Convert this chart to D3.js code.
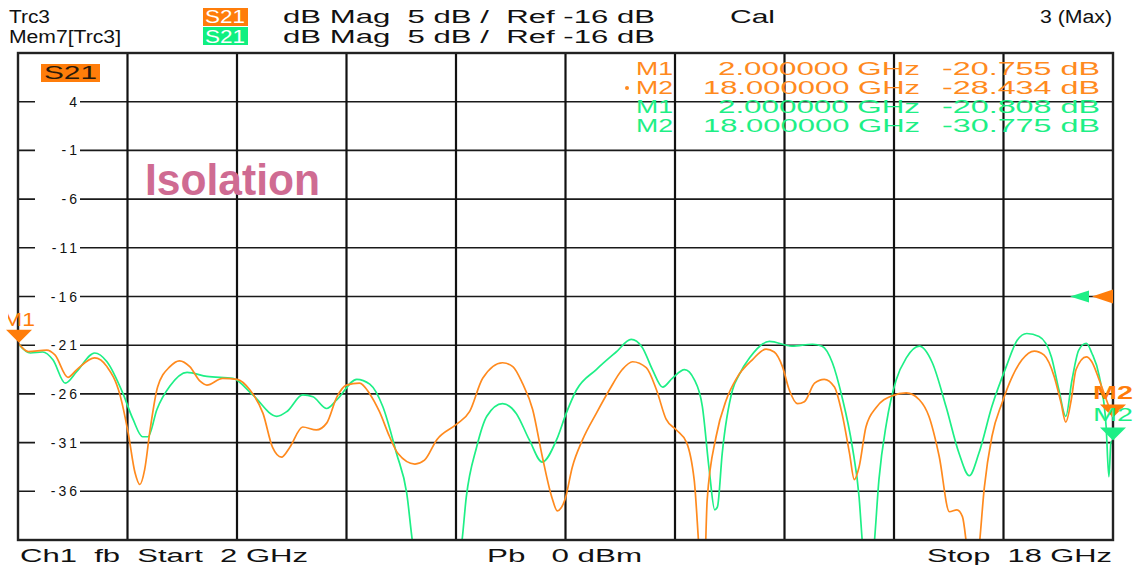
<!DOCTYPE html>
<html><head><meta charset="utf-8">
<script src="https://cdn.jsdelivr.net/npm/d3@7"></script>
<style>
html,body{margin:0;padding:0;background:#fff;}
svg{display:block;font-family:"Liberation Sans",Arial,sans-serif;}
text{white-space:pre;}
</style></head>
<body>
<svg id="chart" width="1133" height="565"></svg>
<script>
// ---- data ----
const freqRange = [2, 18];           // GHz
const dbRange = [-41, 9];             // dB (5 dB/div, Ref -16 dB)
const yTicks = [4, -1, -6, -11, -16, -21, -26, -31, -36];
const xGrid = [3.6, 5.2, 6.8, 8.4, 10.0, 11.6, 13.2, 14.8, 16.4];
const refLevel = -16;

const trc3 = [ // orange, Trc3 S21 (GHz, dB)
 [2.00,-20.76],[2.15,-21.65],[2.42,-21.5],[2.54,-22.0],[2.73,-24.3],[2.86,-23.5],[3.12,-22.3],[3.30,-23.2],
 [3.49,-26.1],[3.61,-30.0],[3.71,-34.1],[3.78,-35.3],[3.85,-33.8],[3.93,-29.7],[4.04,-25.3],[4.22,-23.2],
 [4.36,-22.6],[4.51,-23.2],[4.66,-24.7],[4.76,-25.1],[4.99,-24.4],[5.20,-24.5],[5.39,-25.6],[5.58,-28.0],
 [5.72,-31.5],[5.85,-32.5],[5.97,-31.5],[6.16,-29.4],[6.36,-29.7],[6.51,-29.0],[6.66,-26.3],[6.80,-25.1],
 [6.99,-24.9],[7.14,-26.0],[7.28,-27.8],[7.43,-30.4],[7.55,-32.1],[7.80,-33.2],[7.94,-32.8],[8.12,-30.7],
 [8.41,-29.1],[8.60,-27.8],[8.79,-24.4],[9.08,-22.8],[9.23,-23.2],[9.37,-24.9],[9.52,-27.6],[9.66,-32.4],
 [9.80,-36.6],[9.88,-38.0],[9.99,-36.9],[10.10,-33.5],[10.25,-30.7],[10.45,-28.0],[10.64,-25.6],[10.83,-23.5],
 [10.98,-22.7],[11.18,-23.3],[11.33,-25.6],[11.47,-28.6],[11.62,-29.7],[11.77,-31.0],[11.88,-34.8],[11.99,-44],
 [12.03,-44],[12.07,-36.9],[12.20,-30.4],[12.35,-26.6],[12.50,-24.4],[12.73,-22.5],[12.93,-21.4],[13.05,-21.7],
 [13.17,-23.2],[13.27,-25.6],[13.39,-27.0],[13.49,-26.8],[13.64,-24.9],[13.78,-24.5],[13.93,-25.3],[14.04,-28.0],
 [14.15,-32.1],[14.22,-34.8],[14.29,-33.5],[14.39,-29.4],[14.54,-27.4],[14.77,-26.2],[14.98,-25.9],[15.17,-26.6],
 [15.31,-28.3],[15.46,-32.4],[15.61,-38.1],[15.72,-37.9],[15.80,-38.6],[15.87,-42],[15.96,-46],[16.04,-42],
 [16.12,-35.6],[16.23,-30.4],[16.38,-26.9],[16.53,-24.2],[16.67,-22.5],[16.85,-21.6],[16.99,-22.0],[17.14,-24.2],
 [17.24,-26.9],[17.31,-28.9],[17.39,-26.6],[17.46,-23.5],[17.61,-22.2],[17.69,-22.7],[17.80,-24.6],[17.94,-27.3],
 [18.00,-28.434]
];
const mem7 = [ // green, Mem7[Trc3] S21 (GHz, dB)
 [2.00,-20.81],[2.18,-21.8],[2.36,-21.7],[2.51,-22.5],[2.69,-24.9],[2.86,-23.7],[3.12,-21.8],[3.30,-22.7],
 [3.53,-25.9],[3.68,-28.6],[3.82,-30.4],[3.90,-30.4],[4.03,-27.6],[4.22,-25.2],[4.47,-23.8],[4.76,-24.2],
 [5.14,-24.4],[5.43,-26.1],[5.78,-28.3],[5.93,-27.8],[6.16,-26.1],[6.31,-26.3],[6.51,-27.5],[6.66,-26.6],
 [6.95,-24.5],[7.14,-25.0],[7.33,-27.3],[7.53,-32.1],[7.68,-36.2],[7.77,-41.5],[8.12,-50],[8.48,-41.5],
 [8.55,-36.6],[8.70,-31.5],[8.85,-28.3],[9.08,-27.0],[9.28,-28.0],[9.47,-30.7],[9.66,-33.0],[9.87,-30.7],
 [10.01,-28.0],[10.16,-25.6],[10.45,-23.5],[10.74,-21.7],[10.96,-20.4],[11.12,-21.2],[11.27,-23.5],[11.42,-25.3],
 [11.56,-24.4],[11.74,-23.5],[11.88,-24.5],[12.00,-27.3],[12.10,-33.8],[12.18,-37.9],[12.22,-37.6],[12.29,-32.1],
 [12.44,-25.6],[12.54,-24.0],[12.69,-22.3],[12.98,-20.6],[13.31,-21.1],[13.61,-20.9],[13.75,-21.1],[13.90,-22.8],
 [14.04,-26.3],[14.19,-31.4],[14.29,-36.6],[14.34,-41.5],[14.42,-47],[14.51,-41.5],[14.58,-34.8],[14.69,-29.0],
 [14.83,-24.6],[14.98,-22.3],[15.17,-21.1],[15.36,-22.8],[15.56,-27.3],[15.75,-32.1],[15.90,-34.4],[16.04,-32.1],
 [16.23,-27.3],[16.44,-23.2],[16.60,-20.5],[16.74,-19.8],[16.92,-20.1],[17.10,-22.2],[17.21,-25.6],[17.31,-28.3],
 [17.40,-24.6],[17.50,-21.5],[17.61,-20.8],[17.69,-21.8],[17.80,-24.2],[17.90,-29.4],[17.94,-34.5],[17.97,-31.0],
 [18.00,-30.775]
];
const markerRows = [
 {name:"M1", freq:"2.000000 GHz", val:"-20.755 dB", trace:"trc3"},
 {name:"M2", freq:"18.000000 GHz", val:"-28.434 dB", trace:"trc3", active:true},
 {name:"M1", freq:"2.000000 GHz", val:"-20.808 dB", trace:"mem7"},
 {name:"M2", freq:"18.000000 GHz", val:"-30.775 dB", trace:"mem7"}
];
const markers = [
 {name:"M1", f:2, db:-20.755, trace:"trc3"},
 {name:"M2", f:18, db:-28.434, trace:"trc3"},
 {name:"M2", f:18, db:-30.775, trace:"mem7"}
];

// ---- styling ----
const ORANGE = "#ff8a1e", ORANGE_BOX = "#ff7d0a";
const GREEN = "#1eef86", GREEN_BOX = "#10f080";
const col = {trc3: ORANGE, mem7: GREEN};

const svg = d3.select("#chart");
const L = 18, R = 1113, T = 53, B = 540;
const x = d3.scaleLinear().domain(freqRange).range([L, R]);
const y = d3.scaleLinear().domain(dbRange).range([B, T]);

function txt(g, s, xx, yy, len, opt={}) {
  const t = g.append("text").attr("x", xx).attr("y", yy).text(s)
   .attr("font-size", opt.size || 18).attr("fill", opt.fill || "#111");
  if (len) t.attr("textLength", len).attr("lengthAdjust", "spacingAndGlyphs");
  if (opt.weight) t.attr("font-weight", opt.weight);
  if (opt.anchor) t.attr("text-anchor", opt.anchor);
  return t;
}
const defs = svg.append("defs");
defs.append("clipPath").attr("id", "clip")
  .append("rect").attr("x", L).attr("y", T).attr("width", R - L).attr("height", B - T);
defs.append("clipPath").attr("id", "clipm1")
  .append("rect").attr("x", 8).attr("y", 280).attr("width", 60).attr("height", 80);

// header
const hdr = svg.append("g");
txt(hdr, "Trc3", 9, 23, 41);
txt(hdr, "Mem7[Trc3]", 9, 43, 112);
hdr.append("rect").attr("x", 203).attr("y", 8).attr("width", 45).attr("height", 18).attr("fill", ORANGE_BOX);
hdr.append("rect").attr("x", 203).attr("y", 27).attr("width", 45).attr("height", 18).attr("fill", GREEN_BOX);
txt(hdr, "S21", 205, 23, 40, {fill:"#fff"});
txt(hdr, "S21", 205, 43, 40, {fill:"#fff"});
txt(hdr, "dB Mag  5 dB /  Ref -16 dB", 283, 23, 372);
txt(hdr, "dB Mag  5 dB /  Ref -16 dB", 283, 43, 372);
txt(hdr, "Cal", 730, 23, 45);
txt(hdr, "3 (Max)", 1040, 23, 72);

// grid + y labels
const plot = svg.append("g");
plot.selectAll("line.h").data(yTicks).join("line").attr("class", "h")
  .attr("x1", L).attr("x2", R).attr("y1", d => y(d)).attr("y2", d => y(d))
  .attr("stroke", "#1a1a1a").attr("stroke-width", 1.6);
plot.selectAll("line.v").data(xGrid).join("line").attr("class", "v")
  .attr("x1", d => x(d)).attr("x2", d => x(d)).attr("y1", T).attr("y2", B)
  .attr("stroke", "#111").attr("stroke-width", 2.2);
plot.selectAll("rect.lb").data(yTicks).join("rect").attr("class", "lb")
  .attr("x", 35).attr("y", d => y(d) - 8).attr("width", 45).attr("height", 16).attr("fill", "#fff");
plot.selectAll("text.yl").data(yTicks).join("text").attr("class", "yl")
  .attr("x", 80).attr("y", d => y(d) + 5).attr("text-anchor", "end")
  .attr("font-size", 14).attr("letter-spacing", 3).attr("fill", "#111")
  .text(d => d);

// marker table
const tbl = svg.append("g");
markerRows.forEach((r, i) => {
  const by = 75 + i * 19, c = col[r.trace];
  txt(tbl, r.name, 636, by, 37, {fill: c});
  txt(tbl, r.freq, 920, by, r.freq.length === 12 ? 202 : 217, {fill: c, anchor: "end"});
  txt(tbl, r.val, 942, by, 158, {fill: c});
  if (r.active) tbl.append("circle").attr("cx", 627).attr("cy", by - 6).attr("r", 2).attr("fill", c);
});

// S21 label in plot
svg.append("rect").attr("x", 41).attr("y", 64).attr("width", 59).attr("height", 18).attr("fill", ORANGE_BOX);
txt(svg, "S21", 44, 79, 53, {fill: "#2a1a0a"});

// Isolation annotation
txt(svg, "Isolation", 145, 195, 175, {size: 44, weight: "bold", fill: "#cf6b92"});

// traces
const line = d3.line().x(d => x(d[0])).y(d => y(d[1])).curve(d3.curveMonotoneX);
const tr = svg.append("g").attr("clip-path", "url(#clip)");
tr.append("path").datum(mem7).attr("d", line).attr("fill", "none").attr("stroke", GREEN).attr("stroke-width", 1.7);
tr.append("path").datum(trc3).attr("d", line).attr("fill", "none").attr("stroke", ORANGE).attr("stroke-width", 1.7);

// frame
svg.append("rect").attr("x", L).attr("y", T).attr("width", R - L).attr("height", B - T)
  .attr("fill", "none").attr("stroke", "#222").attr("stroke-width", 2.4);

// reference level arrows
const yr = y(refLevel);
svg.append("path").attr("d", `M${R - 21},${yr} L${R},${yr - 7} L${R},${yr + 7} Z`).attr("fill", ORANGE_BOX);
svg.append("path").attr("d", `M${R - 43},${yr} L${R - 24},${yr - 6} L${R - 24},${yr + 6} Z`).attr("fill", GREEN);

// markers
markers.forEach(m => {
  const mx = x(m.f), my = y(m.db), c = m.trace === "trc3" ? ORANGE_BOX : GREEN;
  const cx = m.f === 2 ? mx + 1 : mx;
  svg.append("path").attr("d", `M${cx},${my} L${cx - 13},${my - 13} L${cx + 13},${my - 13} Z`).attr("fill", c);
  if (m.f === 2) txt(svg, m.name, 3, my - 17, 32, {fill: c, size: 18}).attr("clip-path", "url(#clipm1)");
  else txt(svg, m.name, 1093, my - 19, 40, {fill: c, size: 18, weight: m.trace === "trc3" ? "bold" : null});
});

// footer
txt(svg, "Ch1  fb  Start  2 GHz", 20, 562, 288);
txt(svg, "Pb   0 dBm", 487, 562, 155);
txt(svg, "Stop  18 GHz", 1112, 562, 185, {anchor: "end"});
</script>
</body></html>
